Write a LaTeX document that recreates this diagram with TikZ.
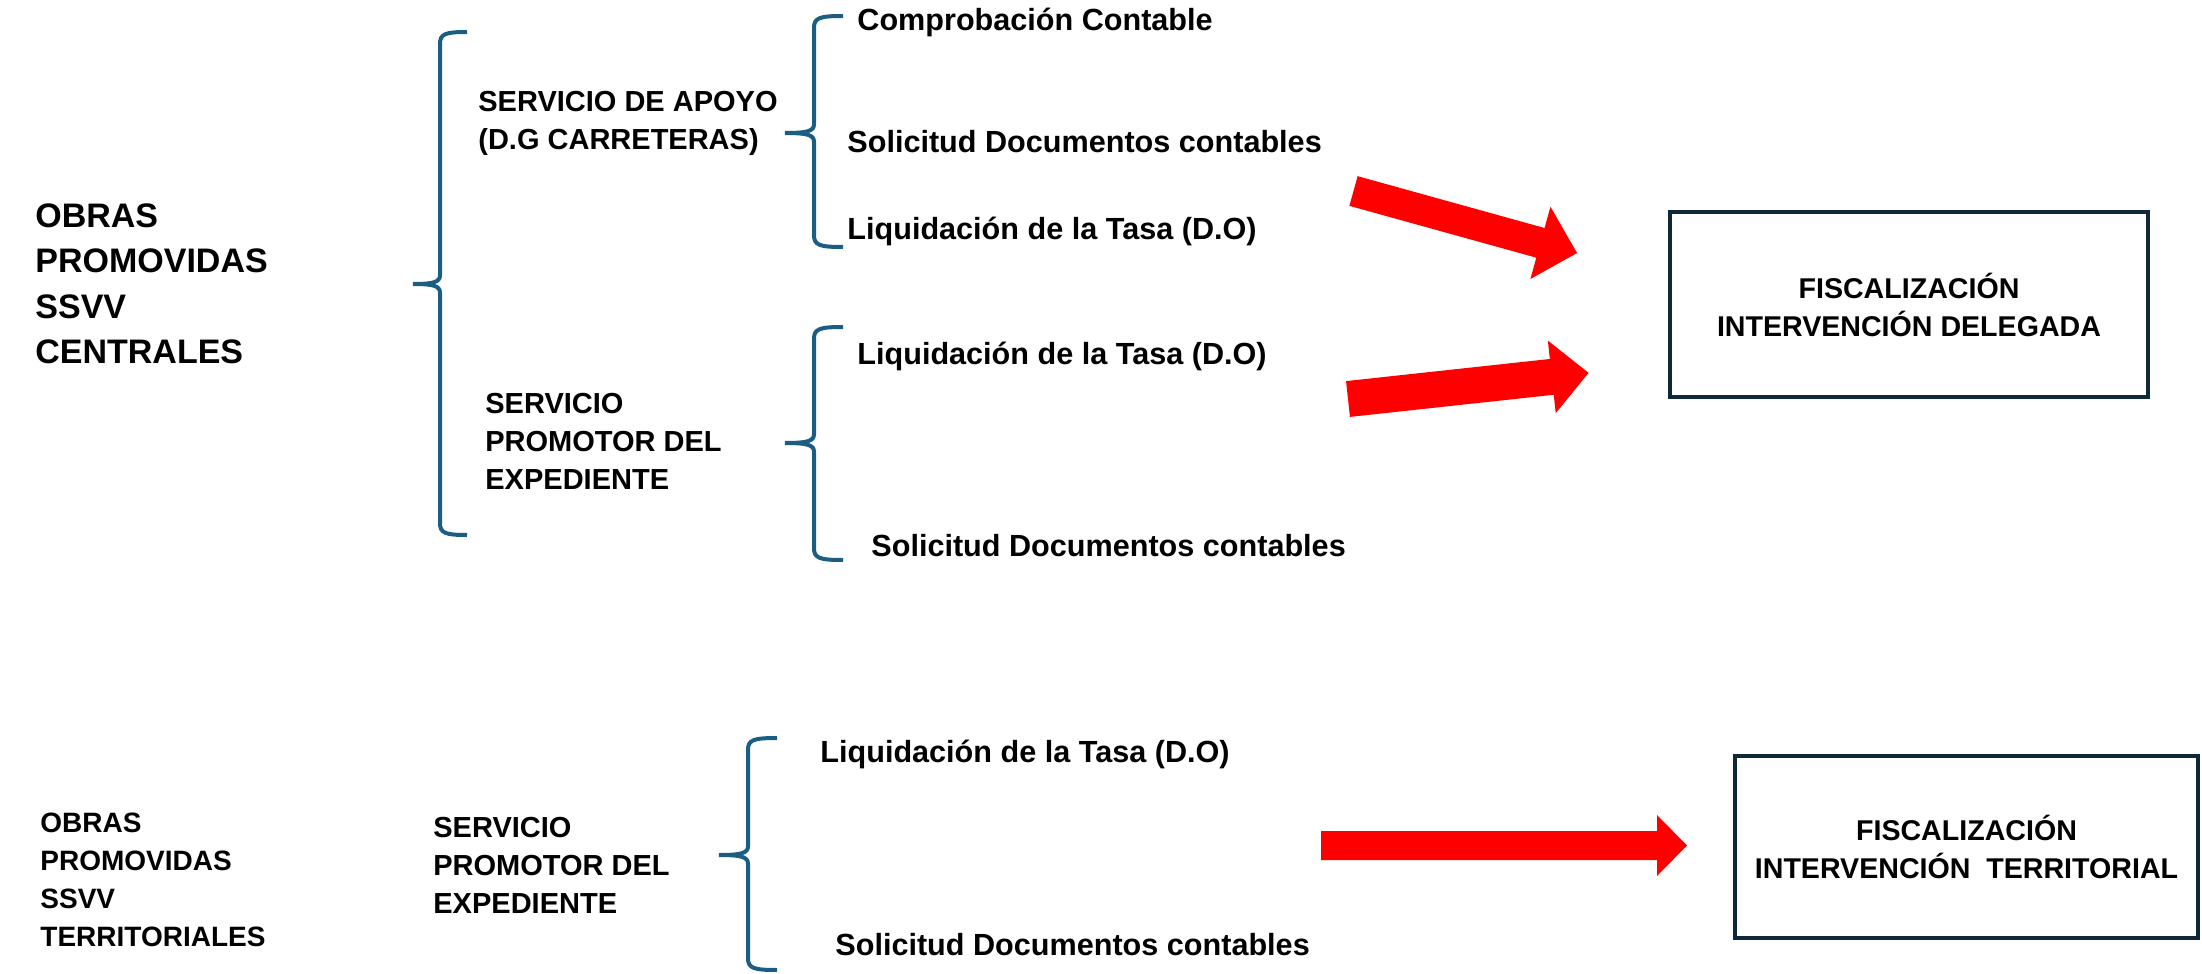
\documentclass[tikz,border=0pt]{standalone}
\usepackage{fontspec}
\setmainfont{Liberation Sans}
\definecolor{bracecol}{RGB}{27,94,132}
\definecolor{boxcol}{RGB}{14,40,56}
\definecolor{arrowred}{RGB}{255,0,0}
\tikzset{
  bracestyle/.style={draw=bracecol, line width=2pt},
  arrowstyle/.style={fill=arrowred},
  boxstyle/.style={draw=boxcol, line width=2pt, inner sep=0pt, align=center,
    font=\fontsize{14.3}{19}\selectfont\bfseries},
  bigtxt/.style={font=\fontsize{17}{22.8}\selectfont\bfseries, align=left, anchor=north west, inner sep=0pt},
  smalltxt/.style={font=\fontsize{14}{18.9}\selectfont\bfseries, align=left, anchor=north west, inner sep=0pt},
  midtxt/.style={font=\fontsize{14.5}{19}\selectfont\bfseries, align=left, anchor=north west, inner sep=0pt},
  itemtxt/.style={font=\fontsize{15.3}{18}\selectfont\bfseries, anchor=base west, inner sep=0pt},
}
% brace: #1 vertical x, #2 arm end x, #3 tip x, #4 top y, #5 tip y, #6 bottom y
\newcommand{\drawbrace}[6]{%
  \draw[bracestyle] (#2,#4) .. controls (#1+5,#4) and (#1,#4+2) .. (#1,#4+12)
    -- (#1,#5-9) .. controls (#1,#5-2) and (#1-6,#5) .. (#3,#5)
    .. controls (#1-6,#5) and (#1,#5+2) .. (#1,#5+9)
    -- (#1,#6-12) .. controls (#1,#6-2) and (#1+5,#6) .. (#2,#6);}
% block arrow: tail (#1,#2), angle #3, length #4, head length #5, half shaft #6, half head #7
\newcommand{\blockarrow}[7]{%
  \fill[arrowstyle, shift={(#1,#2)}, rotate=#3] (0,-#6) -- (#4-#5,-#6) -- (#4-#5,-#7)
    -- (#4,0) -- (#4-#5,#7) -- (#4-#5,#6) -- (0,#6) -- cycle;}
\begin{document}
\begin{tikzpicture}[x=0.5pt,y=-0.5pt]
\useasboundingbox[fill=white] (0,0) rectangle (2202,974);

% upper section
\node[bigtxt] (obrasC) at (35,203) {OBRAS\\PROMOVIDAS\\SSVV\\CENTRALES};
\drawbrace{440}{467}{413}{32}{284}{535}
\node[midtxt] (apoyo) at (478,91) {SERVICIO DE APOYO\\(D.G CARRETERAS)};
\node[midtxt] (promo1) at (485,393) {SERVICIO\\PROMOTOR DEL\\EXPEDIENTE};
\drawbrace{814}{843}{785}{16}{133}{247}
\drawbrace{814}{843}{785}{327}{443}{560}
\node[itemtxt] (comp) at (857,31) {Comprobación Contable};
\node[itemtxt] (sol1) at (847,153) {Solicitud Documentos contables};
\node[itemtxt] (liq1) at (847,240) {Liquidación de la Tasa (D.O)};
\node[itemtxt] (liq2) at (857,364) {Liquidación de la Tasa (D.O)};
\node[itemtxt] (sol2) at (871,556) {Solicitud Documentos contables};

\node[boxstyle, minimum width=239pt, minimum height=92.5pt] (deleg) at (1909,304.5)
  {FISCALIZACIÓN\\INTERVENCIÓN DELEGADA};
\blockarrow{1353.5}{191}{-15.5}{232}{38}{15.4}{37.5}
\blockarrow{1348}{399}{6.2}{242}{37}{18}{36.5}

% lower section
\node[smalltxt] (obrasT) at (40,813) {OBRAS\\PROMOVIDAS\\SSVV\\TERRITORIALES};
\node[midtxt] (promo2) at (433,817) {SERVICIO\\PROMOTOR DEL\\EXPEDIENTE};
\drawbrace{748}{777}{719}{738}{855}{970}
\node[itemtxt] (liq3) at (820,762) {Liquidación de la Tasa (D.O)};
\node[itemtxt] (sol3) at (835,955) {Solicitud Documentos contables};

\node[boxstyle, minimum width=231.5pt, minimum height=91pt] (territ) at (1966.5,847)
  {FISCALIZACIÓN\\INTERVENCIÓN\ \ TERRITORIAL};
\blockarrow{1321}{845.5}{0}{366}{30}{14.5}{30.5}
\end{tikzpicture}
\end{document}
